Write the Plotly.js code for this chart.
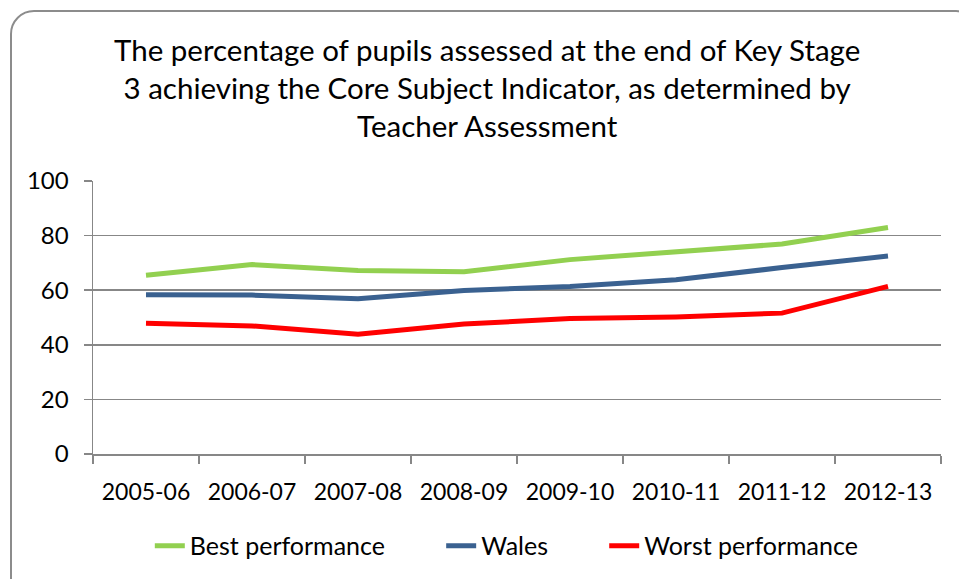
<!DOCTYPE html>
<html>
<head>
<meta charset="utf-8">
<script src="https://cdn.plot.ly/plotly-3.0.1.min.js"></script>
<style>
  html, body { margin: 0; padding: 0; background: #fff; overflow: hidden; }
  #frame { position: absolute; left: 10px; top: 10px; width: 970px; height: 600px;
           border: 2px solid #8c8c8c; border-radius: 24px; box-sizing: border-box; }
  #chart { position: absolute; left: 0; top: 0; width: 959px; height: 579px; }
</style>
</head>
<body>
<div id="frame"></div>
<div id="chart"></div>
<script>
const years = ["2005-06", "2006-07", "2007-08", "2008-09", "2009-10", "2010-11", "2011-12", "2012-13"];
const bestPerformance = [65.5, 69.4, 67.2, 66.8, 71.2, 74.0, 76.9, 83.0];
const wales = [58.3, 58.2, 56.9, 59.9, 61.4, 63.8, 68.3, 72.5];
const worstPerformance = [47.9, 46.9, 43.9, 47.6, 49.6, 50.2, 51.6, 61.4];
const yTicks = [0, 20, 40, 60, 80, 100];
const seriesNames = ["Best performance", "Wales", "Worst performance"];

const FONT = "Lato, 'Open Sans', sans-serif";
const gridCol = "#878787";
const PAD = "\u00a0".repeat(8);

const traces = [
  { x: years, y: bestPerformance, name: seriesNames[0] + PAD, type: "scatter", mode: "lines",
    line: { color: "#92D050", width: 5 } },
  { x: years, y: wales, name: seriesNames[1] + PAD, type: "scatter", mode: "lines",
    line: { color: "#3A6190", width: 5 } },
  { x: years, y: worstPerformance, name: seriesNames[2], type: "scatter", mode: "lines",
    line: { color: "#FF0000", width: 5 } }
];

const layout = {
  width: 959, height: 579,
  paper_bgcolor: "rgba(0,0,0,0)", plot_bgcolor: "rgba(0,0,0,0)",
  margin: { l: 93, r: 18, t: 181, b: 124 },
  font: { family: FONT, color: "#000" },
  title: {
    text: "The percentage of pupils assessed at the end of Key Stage<br>3 achieving the Core Subject Indicator, as determined by<br>Teacher Assessment",
    font: { family: FONT, size: 29.5, color: "#000" },
    x: 0.508, xanchor: "center", y: 0.895, yanchor: "middle", yref: "container"
  },
  xaxis: {
    type: "category", range: [-0.5, 7.5],
    tickson: "boundaries", ticks: "outside", ticklen: 8, tickwidth: 1.5, tickcolor: gridCol,
    showline: true, linecolor: gridCol, linewidth: 1.5,
    showgrid: false, zeroline: false,
    tickfont: { family: FONT, size: 23, color: "#000" },
    ticklabelstandoff: 17
  },
  yaxis: {
    range: [0, 100], tickvals: yTicks, ticktext: yTicks.map(String),
    ticks: "outside", ticklen: 8, tickwidth: 1.5, tickcolor: gridCol,
    showline: true, linecolor: gridCol, linewidth: 1.5,
    showgrid: true, gridcolor: gridCol, gridwidth: 1.5, zeroline: false,
    tickfont: { family: FONT, size: 24, color: "#000" },
    ticklabelstandoff: 10
  },
  showlegend: true,
  legend: {
    orientation: "h", x: 0.067, xanchor: "left", y: -0.332, yanchor: "middle",
    font: { family: FONT, size: 25, color: "#000" },
    itemwidth: 30, traceorder: "normal", bgcolor: "rgba(0,0,0,0)"
  }
};

Plotly.newPlot("chart", traces, layout, { displayModeBar: false, staticPlot: true });
</script>
</body>
</html>
